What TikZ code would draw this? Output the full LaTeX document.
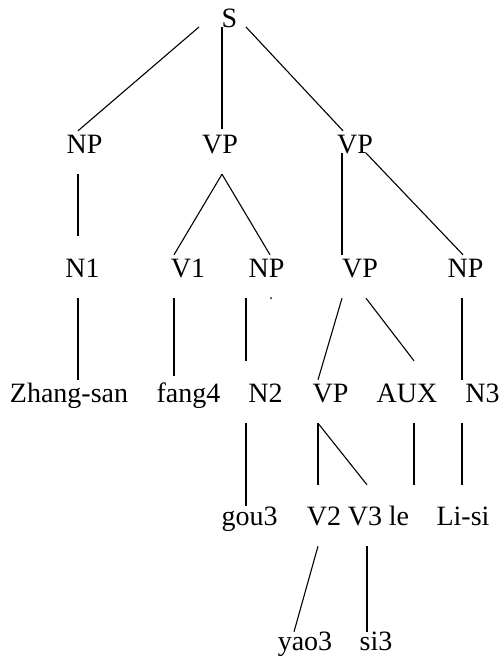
\documentclass[tikz,border=0pt]{standalone}
\usepackage{fontspec}
\setmainfont{Liberation Serif}

\begin{document}
\begin{tikzpicture}[x=1pt, y=-1pt,
    every node/.style={font=\fontsize{28}{34}\selectfont},
    tag/.style={anchor=base, inner sep=0pt, text height=22pt, text depth=21pt},
    br/.style={line width=1.1pt}]
  \useasboundingbox (0,0) rectangle (500,659);
  % categories and words, row by row
  \node[tag] (s) at (229.5,27) {S};
  \node[tag] (np1) at (84.5,153) {NP};
  \node[tag] (vp1) at (220,153) {VP};
  \node[tag] (vp2) at (355,153) {VP};
  \node[tag] (n1) at (82.5,277) {N1};
  \node[tag] (v1) at (188,277) {V1};
  \node[tag] (np2) at (266.5,277) {NP};
  \node[tag] (vp3) at (360,277) {VP};
  \node[tag] (np3) at (465.5,277) {NP};
  \node[tag] (zs) at (69,402) {Zhang-san};
  \node[tag] (fang) at (188.5,402) {fang4};
  \node[tag] (n2) at (265.5,402) {N2};
  \node[tag] (vp4) at (330.5,402) {VP};
  \node[tag] (aux) at (407,402) {AUX};
  \node[tag] (n3) at (482.5,402) {N3};
  \node[tag] (gou) at (249.5,525) {gou3};
  \node[tag] (v2) at (324,525) {V2};
  \node[tag] (v3) at (365,525) {V3};
  \node[tag] (le) at (399,525) {le};
  \node[tag] (lisi) at (463,525) {Li-si};
  \node[tag] (yao) at (305,650) {yao3};
  \node[tag] (si) at (376,650) {si3};
  % branches
  \draw[br] ([xshift=-30.5]s.base) -- ([xshift=-6.5]np1.north);
  \draw[br] ([xshift=-7.5]s.base) -- ([xshift=2,yshift=2]vp1.north);
  \draw[br] ([xshift=16.5]s.base) -- ([xshift=-12]vp2.north);
  \draw[br] ([xshift=-6.5]np1.south) -- ([xshift=-4.5,yshift=19]n1.north);
  \draw[br] ([xshift=2]vp1.south) -- ([xshift=-14]v1.north);
  \draw[br] ([xshift=2]vp1.south) -- ([xshift=3.5]np2.north);
  \draw[br] ([xshift=-13]vp2.base) -- ([xshift=-18]vp3.north);
  \draw[br] ([xshift=11]vp2.base) -- ([xshift=-2.5]np3.north);
  \draw[br] ([xshift=-4.5]n1.south) -- ([xshift=9]zs.north);
  \draw[br] ([xshift=-14]v1.south) -- ([xshift=-14.5,yshift=4]fang.north);
  \draw[br] ([xshift=-20.5]np2.south) -- ([xshift=-19.5,yshift=19]n2.north);
  \fill ([xshift=4.5]np2.south) circle (1);
  \draw[br] ([xshift=-18]vp3.south) -- ([xshift=-12.5]vp4.north);
  \draw[br] ([xshift=6]vp3.south) -- ([xshift=7,yshift=19]aux.north);
  \draw[br] ([xshift=-3.5]np3.south) -- ([xshift=-20.5]n3.north);
  \draw[br] ([xshift=-19.5]n2.south) -- ([xshift=-3.5,yshift=-3]gou.north);
  \draw[br] ([xshift=-12.5]vp4.south) -- ([xshift=-6,yshift=18]v2.north);
  \draw[br] ([xshift=-12.5]vp4.south) -- ([xshift=2,yshift=18]v3.north);
  \draw[br] ([xshift=7]aux.south) -- ([xshift=15,yshift=18]le.north);
  \draw[br] ([xshift=-20.5]n3.south) -- ([xshift=-1,yshift=18]lisi.north);
  \draw[br] ([xshift=-6]v2.south) -- ([xshift=-11,yshift=-4]yao.north);
  \draw[br] ([xshift=2]v3.south) -- ([xshift=-9,yshift=-4]si.north);
\end{tikzpicture}
\end{document}
